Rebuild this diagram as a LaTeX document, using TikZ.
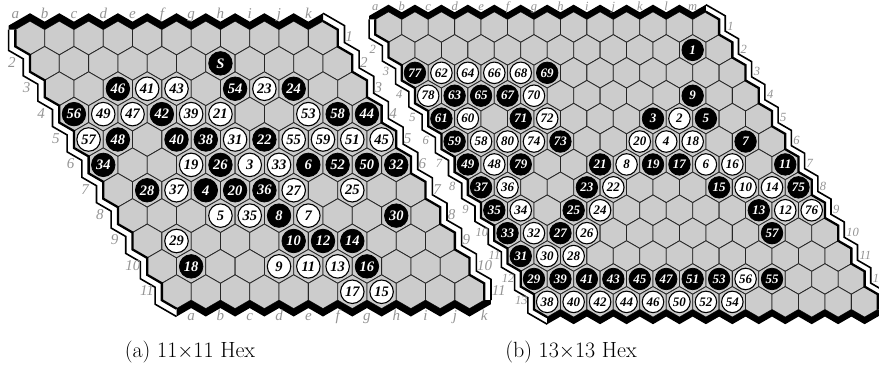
\documentclass[tikz,border=0pt]{standalone}
\usepackage{fontspec}
\newfontfamily\tms{Liberation Serif}
\definecolor{hexgray}{gray}{0.8}
\definecolor{labgray}{gray}{0.58}
\newcommand\colletter[1]{\ifcase#1\or a\or b\or c\or d\or e\or f\or g\or h\or i\or j\or k\or l\or m\fi}
\tikzset{
  hexcell/.style={fill=hexgray,draw=black!85,line width=0.8pt},
  bandin/.style={draw=black,line width=2.3pt,line join=miter},
  bandout/.style={draw=black,line width=1.6pt,line join=miter},
  band/.style={fill=black},
  lbl/.style={text=labgray,inner sep=0pt,font=\lblfont},
  stonebase/.style={circle,inner sep=0pt,minimum size=\stsize,font=\stfont},
  bst/.style={stonebase,fill=black,draw=black,line width=0.8pt,text=white},
  wst/.style={stonebase,fill=white,draw=black,line width=1.1pt,text=black},
  captext/.style={inner sep=0pt,font=\fontsize{22}{26}\selectfont},
}
% board drawing: uses \hbN \hbw \hbx \hby \hbd \topoff \leftoff \rightoff
\newcommand\drawhexboard[2]{% #1 prefix, #2 = 1 to draw bottom labels
  \pgfmathsetmacro\hbs{\hbw/sqrt(3)}
  \pgfmathsetmacro\hbh{\hbw*sqrt(3)/2}
  \pgfmathsetmacro\hbD{\hbd*2/sqrt(3)}
  \pgfmathsetmacro\hbt{\hbd/sqrt(3)}
  \pgfmathsetmacro\YN{\hby+(\hbN-1)*\hbh}
  \pgfmathsetmacro\XNo{\hbx+(\hbN-1)*\hbw/2}
  % cells
  \foreach \ri in {1,...,\hbN}{
    \foreach \ci in {1,...,\hbN}{
      \pgfmathsetmacro\X{\hbx+(\ci-1)*\hbw+(\ri-1)*\hbw/2}
      \pgfmathsetmacro\Y{\hby+(\ri-1)*\hbh}
      \path[hexcell] ({\X},{\Y-\hbs}) -- ({\X+\hbw/2},{\Y-\hbs/2}) -- ({\X+\hbw/2},{\Y+\hbs/2})
        -- ({\X},{\Y+\hbs}) -- ({\X-\hbw/2},{\Y+\hbs/2}) -- ({\X-\hbw/2},{\Y-\hbs/2}) -- cycle;
    }
  }
  % left (white) edge
  \draw[bandin] ({\hbx-\hbw/2},{\hby-\hbs/2})
    \foreach \ri in {1,...,\hbN}{ -- ({\hbx+(\ri-1)*\hbw/2-\hbw/2},{\hby+(\ri-1)*\hbh+\hbs/2})
      -- ({\hbx+(\ri-1)*\hbw/2},{\hby+(\ri-1)*\hbh+\hbs}) };
  \draw[bandout] ({\hbx-\hbw/2-\hbd},{\hby-\hbs/2})
    \foreach \ri in {1,...,\hbN}{ -- ({\hbx+(\ri-1)*\hbw/2-\hbw/2-\hbd},{\hby+(\ri-1)*\hbh+\hbs/2+\hbt})
      -- ({\hbx+(\ri-1)*\hbw/2-\hbd},{\hby+(\ri-1)*\hbh+\hbs+\hbt}) }
    -- ({\XNo},{\YN+\hbs+\hbD});
  % right (white) edge
  \draw[bandin] ({\hbx+(\hbN-1)*\hbw},{\hby-\hbs})
    \foreach \ri in {1,...,\hbN}{ -- ({\hbx+(\hbN-1)*\hbw+(\ri-1)*\hbw/2+\hbw/2},{\hby+(\ri-1)*\hbh-\hbs/2})
      -- ({\hbx+(\hbN-1)*\hbw+(\ri-1)*\hbw/2+\hbw/2},{\hby+(\ri-1)*\hbh+\hbs/2}) };
  \draw[bandout] ({\hbx+(\hbN-1)*\hbw},{\hby-\hbs-\hbD})
    \foreach \ri in {1,...,\hbN}{ -- ({\hbx+(\hbN-1)*\hbw+(\ri-1)*\hbw/2+\hbw/2+\hbd},{\hby+(\ri-1)*\hbh-\hbs/2-\hbt})
      -- ({\hbx+(\hbN-1)*\hbw+(\ri-1)*\hbw/2+\hbw/2+\hbd},{\hby+(\ri-1)*\hbh+\hbs/2-\hbt}) }
    -- ({\XNo+(\hbN-1)*\hbw+\hbw/2+\hbd},{\YN+\hbs/2});
  % top (black) edge
  \fill[band] ({\hbx-\hbw/2},{\hby-\hbs/2})
    \foreach \ci in {1,...,\hbN}{ -- ({\hbx+(\ci-1)*\hbw-\hbw/2},{\hby-\hbs/2}) -- ({\hbx+(\ci-1)*\hbw},{\hby-\hbs}) }
    \foreach \ci in {\hbN,...,1}{ -- ({\hbx+(\ci-1)*\hbw},{\hby-\hbs-\hbD}) -- ({\hbx+(\ci-1)*\hbw-\hbw/2},{\hby-\hbs/2-\hbD}) }
    -- ({\hbx-\hbw/2-\hbd},{\hby-\hbs/2-\hbD+\hbt}) -- ({\hbx-\hbw/2-\hbd},{\hby-\hbs/2}) -- cycle;
  % bottom (black) edge
  \fill[band] ({\XNo},{\YN+\hbs})
    \foreach \ci in {1,...,\hbN}{ -- ({\XNo+(\ci-1)*\hbw},{\YN+\hbs}) -- ({\XNo+(\ci-1)*\hbw+\hbw/2},{\YN+\hbs/2}) }
    -- ({\XNo+(\hbN-1)*\hbw+\hbw/2+\hbd},{\YN+\hbs/2}) -- ({\XNo+(\hbN-1)*\hbw+\hbw/2+\hbd},{\YN+\hbs/2+\hbt})
    \foreach \ci in {\hbN,...,1}{ -- ({\XNo+(\ci-1)*\hbw+\hbw/2},{\YN+\hbs/2+\hbD}) -- ({\XNo+(\ci-1)*\hbw},{\YN+\hbs+\hbD}) }
    -- cycle;
  % labels
  \foreach \ci in {1,...,\hbN}{
    \node[lbl,anchor=base] (#1t\ci) at ({\hbx+(\ci-1)*\hbw-\hbw/2},{\hby-\hbs/2-\hbD-\topoff}) {\colletter{\ci}};
  }
  \ifnum#2=1
  \foreach \ci in {1,...,\hbN}{
    \node[lbl,anchor=base] (#1b\ci) at ({\XNo+(\ci-1)*\hbw+\hbw/2},{\YN+\hbs/2+\hbD+12.7}) {\colletter{\ci}};
  }
  \fi
  \foreach \ri in {2,...,\hbN}{
    \node[lbl,anchor=west] (#1l\ri) at ({\hbx+(\ri-1)*\hbw/2-\hbw/2-\leftoff},{\hby+(\ri-1)*\hbh-1}) {\ri};
  }
  \foreach \ri in {1,...,\rightmax}{
    \node[lbl,anchor=west] (#1r\ri) at ({\hbx+(\hbN-1)*\hbw+(\ri-1)*\hbw/2+\hbw/2+\rightoff},{\hby+(\ri-1)*\hbh-1}) {\ri};
  }
}
\begin{document}
\begin{tikzpicture}[x=1pt,y=-1pt]
\useasboundingbox (0,0) rectangle (879,370);
% ---------------- board (a) 11x11 ----------------
\def\hbN{11}\def\hbw{29.3}\def\hbx{30}\def\hby{38}\def\hbd{6.8}
\def\topoff{3}\def\leftoff{22}\def\rightoff{7.5}\def\rightmax{11}
\def\lblfont{\tms\itshape\fontsize{15}{15}\selectfont}
\def\stfont{\tms\bfseries\itshape\fontsize{14.5}{14.5}\selectfont}
\def\stsize{23.5pt}
\drawhexboard{A}{1}
\foreach \ci/\ri/\num/\sty in {
 7/2/S/bst,
 3/3/46/bst,4/3/41/wst,5/3/43/wst,7/3/54/bst,8/3/23/wst,9/3/24/bst,
 1/4/56/bst,2/4/49/wst,3/4/47/wst,4/4/42/bst,5/4/39/wst,6/4/21/wst,9/4/53/wst,10/4/58/bst,11/4/44/bst,
 1/5/57/wst,2/5/48/bst,4/5/40/bst,5/5/38/bst,6/5/31/wst,7/5/22/bst,8/5/55/wst,9/5/59/wst,10/5/51/wst,11/5/45/wst,
 1/6/34/bst,4/6/19/wst,5/6/26/bst,6/6/3/wst,7/6/33/wst,8/6/6/bst,9/6/52/bst,10/6/50/bst,11/6/32/bst,
 2/7/28/bst,3/7/37/wst,4/7/4/bst,5/7/20/bst,6/7/36/bst,7/7/27/wst,9/7/25/wst,
 4/8/5/wst,5/8/35/wst,6/8/8/bst,7/8/7/wst,10/8/30/bst,
 2/9/29/wst,6/9/10/bst,7/9/12/bst,8/9/14/bst,
 2/10/18/bst,5/10/9/wst,6/10/11/wst,7/10/13/wst,8/10/16/bst,
 7/11/17/wst,8/11/15/wst}{
  \node[\sty] (As\ci-\ri) at ({\hbx+(\ci-1)*\hbw+(\ri-1)*\hbw/2},{\hby+(\ri-1)*\hbh}) {\num};
}
% ---------------- board (b) 13x13 ----------------
\def\hbN{13}\def\hbw{26.45}\def\hbx{388.5}\def\hby{27}\def\hbd{6.1}
\def\topoff{1.8}\def\leftoff{19}\def\rightoff{8}\def\rightmax{12}
\def\lblfont{\tms\itshape\fontsize{12.5}{12.5}\selectfont}
\def\stfont{\tms\bfseries\itshape\fontsize{13}{13}\selectfont}
\def\stsize{21.5pt}
\drawhexboard{B}{0}
\foreach \ci/\ri/\num/\sty in {
 12/2/1/bst,
 1/3/77/bst,2/3/62/wst,3/3/64/wst,4/3/66/wst,5/3/68/wst,6/3/69/bst,
 1/4/78/wst,2/4/63/bst,3/4/65/bst,4/4/67/bst,5/4/70/wst,11/4/9/bst,
 1/5/61/bst,2/5/60/wst,4/5/71/bst,5/5/72/wst,9/5/3/bst,10/5/2/wst,11/5/5/bst,
 1/6/59/bst,2/6/58/wst,3/6/80/wst,4/6/74/wst,5/6/73/bst,8/6/20/wst,9/6/4/wst,10/6/18/wst,12/6/7/bst,
 1/7/49/bst,2/7/48/wst,3/7/79/bst,6/7/21/bst,7/7/8/wst,8/7/19/bst,9/7/17/bst,10/7/6/wst,11/7/16/wst,13/7/11/bst,
 1/8/37/bst,2/8/36/wst,5/8/23/bst,6/8/22/wst,10/8/15/bst,11/8/10/wst,12/8/14/wst,13/8/75/bst,
 1/9/35/bst,2/9/34/wst,4/9/25/bst,5/9/24/wst,11/9/13/bst,12/9/12/wst,13/9/76/wst,
 1/10/33/bst,2/10/32/wst,3/10/27/bst,4/10/26/wst,11/10/57/bst,
 1/11/31/bst,2/11/30/wst,3/11/28/wst,
 1/12/29/bst,2/12/39/bst,3/12/41/bst,4/12/43/bst,5/12/45/bst,6/12/47/bst,7/12/51/bst,8/12/53/bst,9/12/56/wst,10/12/55/bst,
 1/13/38/wst,2/13/40/wst,3/13/42/wst,4/13/44/wst,5/13/46/wst,6/13/50/wst,7/13/52/wst,8/13/54/wst}{
  \node[\sty] (Bs\ci-\ri) at ({\hbx+(\ci-1)*\hbw+(\ri-1)*\hbw/2},{\hby+(\ri-1)*\hbh}) {\num};
}
% captions
\node[captext] (capa) at (190,352) {(a) 11$\times$11 Hex};
\node[captext] (capb) at (571,352) {(b) 13$\times$13 Hex};
\end{tikzpicture}
\end{document}
